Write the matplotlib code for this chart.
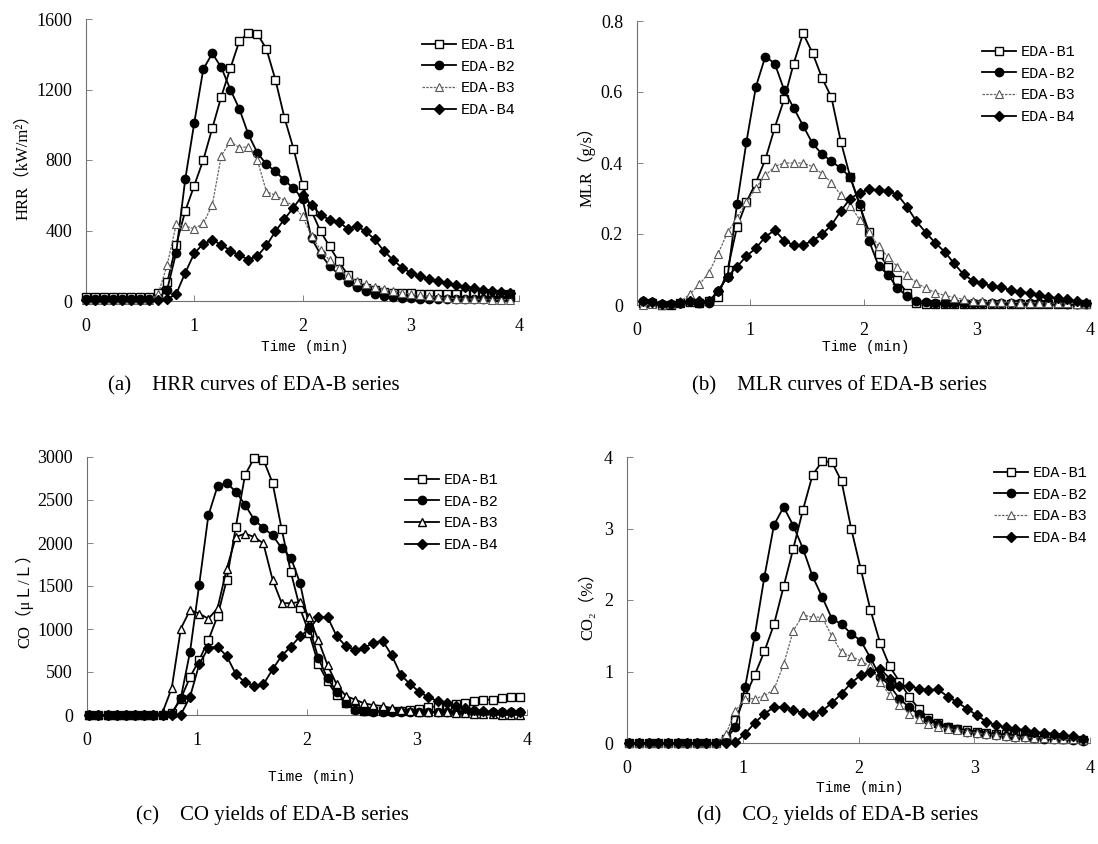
import numpy as np
import matplotlib
matplotlib.use('Agg')
import matplotlib.pyplot as plt

# ===============================
# data read off the four panels (sampled every 5 s)
# ===============================
t_a = np.arange(48) / 12
t_b = 0.05 + np.arange(48) / 12
t_c = 0.02 + np.arange(48) / 12
t_d = 0.02 + np.arange(48) / 12

# (a) HRR, kW/m2
hrr_b1 = [20] * 8 + [45, 105, 320, 510, 655, 800, 980, 1160, 1320, 1475,
                     1520, 1515, 1430, 1255, 1040, 865, 660, 510, 395, 310,
                     225, 150, 100, 75, 60, 52, 48, 45, 45, 42,
                     42, 42, 42, 42, 40, 40, 40, 40, 38, 38]
hrr_b2 = [10] * 8 + [15, 65, 275, 690, 1010, 1315, 1405, 1325, 1200, 1090,
                     945, 840, 775, 735, 685, 640, 580, 355, 265, 200,
                     150, 105, 78, 58, 40, 30, 22, 18, 15, 14,
                     13, 12, 12, 12, 12, 12, 12, 12, 12, 12]
hrr_b3 = [5] * 8 + [40, 205, 435, 425, 410, 440, 545, 825, 905, 870,
                    875, 800, 620, 600, 570, 540, 480, 370, 290, 230,
                    185, 140, 115, 95, 80, 68, 58, 48, 40, 32,
                    26, 20, 16, 14, 12, 10, 10, 8, 8, 8]
hrr_b4 = [5] * 9 + [10, 40, 160, 270, 325, 345, 320, 285, 260, 235,
                    255, 315, 395, 465, 530, 600, 545, 490, 460, 450,
                    410, 425, 395, 350, 285, 235, 190, 160, 140, 125,
                    112, 102, 90, 80, 73, 65, 58, 52, 48]

# (b) MLR, g/s
mlr_b1 = [0.005, 0.005, 0.0, 0.0, 0.005, 0.008, 0.005, 0.01, 0.023, 0.10,
          0.22, 0.29, 0.345, 0.41, 0.50, 0.58, 0.68, 0.765, 0.71, 0.64,
          0.585, 0.46, 0.36, 0.28, 0.205, 0.145, 0.108, 0.07, 0.035, 0.005,
          0.003, 0.003, 0.002, 0.002, 0.002, 0.002, 0.002, 0.002, 0.002, 0.002,
          0.002, 0.002, 0.003, 0.003, 0.003, 0.003, 0.003, 0.003]
mlr_b2 = [0.01, 0.008, 0.003, 0.004, 0.007, 0.01, 0.005, 0.005, 0.04, 0.08,
          0.285, 0.46, 0.615, 0.70, 0.68, 0.605, 0.555, 0.505, 0.455, 0.425,
          0.405, 0.385, 0.36, 0.285, 0.18, 0.11, 0.085, 0.048, 0.025, 0.012,
          0.008, 0.007, 0.006, 0.006, 0.005, 0.005, 0.005, 0.005, 0.005, 0.005,
          0.005, 0.005, 0.005, 0.005, 0.005, 0.004, 0.004, 0.004]
mlr_b3 = [0.0, 0.002, 0.0, 0.003, 0.01, 0.03, 0.058, 0.09, 0.145, 0.205,
          0.245, 0.29, 0.33, 0.365, 0.39, 0.40, 0.40, 0.40, 0.39, 0.37,
          0.345, 0.31, 0.28, 0.24, 0.205, 0.165, 0.135, 0.108, 0.084, 0.063,
          0.047, 0.035, 0.027, 0.021, 0.016, 0.012, 0.01, 0.009, 0.008, 0.008,
          0.007, 0.007, 0.006, 0.006, 0.005, 0.005, 0.004, 0.003]
mlr_b4 = [0.01, 0.008, 0.003, 0.003, 0.005, 0.01, 0.01, 0.01, 0.04, 0.08,
          0.108, 0.138, 0.16, 0.192, 0.211, 0.181, 0.169, 0.169, 0.181, 0.199,
          0.225, 0.265, 0.30, 0.316, 0.326, 0.324, 0.321, 0.311, 0.277, 0.236,
          0.204, 0.175, 0.15, 0.117, 0.086, 0.068, 0.061, 0.053, 0.05, 0.042,
          0.038, 0.033, 0.028, 0.023, 0.019, 0.016, 0.011, 0.007]

# (c) CO, uL/L
co_b1 = [0] * 9 + [20, 190, 440, 640, 870, 1150, 1570, 2190, 2790, 2990,
                   2970, 2700, 2160, 1660, 1240, 950, 590, 390, 230, 145,
                   70, 50, 45, 45, 45, 50, 60, 75, 90, 100,
                   110, 125, 140, 160, 175, 180, 195, 215, 215]
co_b2 = [0] * 9 + [15, 200, 735, 1515, 2320, 2660, 2700, 2595, 2445, 2270,
                   2175, 2090, 1940, 1830, 1535, 1025, 660, 425, 270, 145,
                   60, 45, 40, 40, 40, 35, 35, 30, 30, 30,
                   30, 30, 30, 30, 30, 30, 30, 30, 30]
co_b3 = [0] * 8 + [30, 310, 1005, 1220, 1180, 1120, 1240, 1700, 2070, 2110,
                   2070, 1995, 1575, 1300, 1300, 1315, 1140, 870, 580, 355,
                   220, 180, 135, 115, 105, 80, 60, 50, 40, 40,
                   35, 30, 25, 20, 15, 10, 10, 5, 5, 5]
co_b4 = [0] * 10 + [5, 210, 590, 780, 795, 685, 475, 380, 340, 355,
                    530, 690, 795, 915, 1000, 1135, 1140, 915, 800, 760,
                    780, 840, 865, 695, 465, 360, 270, 205, 165, 135,
                    105, 80, 60, 50, 40, 30, 40, 30]

# (d) CO2, %
co2_b1 = [0] * 10 + [0.05, 0.32, 0.65, 0.95, 1.28, 1.66, 2.19, 2.72, 3.26, 3.75,
                     3.94, 3.93, 3.66, 3.0, 2.43, 1.86, 1.40, 1.07, 0.86, 0.65,
                     0.48, 0.35, 0.28, 0.23, 0.20, 0.18, 0.16, 0.14, 0.13, 0.12,
                     0.11, 0.10, 0.09, 0.08, 0.07, 0.06, 0.05, 0.04]
co2_b2 = [0] * 10 + [0.05, 0.22, 0.78, 1.50, 2.32, 3.05, 3.30, 3.04, 2.72, 2.33,
                     2.04, 1.74, 1.66, 1.53, 1.43, 1.19, 0.93, 0.80, 0.62, 0.50,
                     0.40, 0.32, 0.26, 0.22, 0.19, 0.16, 0.14, 0.12, 0.11, 0.10,
                     0.09, 0.08, 0.07, 0.06, 0.05, 0.05, 0.04, 0.03]
co2_b3 = [0] * 10 + [0.12, 0.45, 0.62, 0.62, 0.66, 0.75, 1.10, 1.57, 1.79, 1.76,
                     1.76, 1.49, 1.27, 1.21, 1.15, 1.07, 0.86, 0.67, 0.53, 0.41,
                     0.33, 0.27, 0.23, 0.20, 0.18, 0.16, 0.14, 0.12, 0.11, 0.10,
                     0.09, 0.08, 0.07, 0.07, 0.06, 0.05, 0.05, 0.04]
co2_b4 = [0] * 11 + [0.01, 0.13, 0.28, 0.41, 0.50, 0.51, 0.46, 0.42, 0.39,
                     0.45, 0.56, 0.69, 0.84, 0.95, 1.0, 1.04, 0.90, 0.80, 0.80,
                     0.76, 0.74, 0.75, 0.65, 0.57, 0.48, 0.39, 0.30, 0.25, 0.22,
                     0.20, 0.18, 0.155, 0.14, 0.13, 0.11, 0.095, 0.06]

names = ['EDA-B1', 'EDA-B2', 'EDA-B3', 'EDA-B4']

# ===============================
# styles
# ===============================
FIG_W, FIG_H = 1098, 844
serif = ['Liberation Serif', 'Noto Sans CJK SC', 'DejaVu Serif']
mono = ['Liberation Mono', 'DejaVu Sans Mono']

def style(i, gray_b3=True):
    base = dict(color='black', lw=1.3, clip_on=False, zorder=3)
    if i == 0:
        base.update(marker='s', ms=6, mfc='white', mec='black', mew=1.0)
    elif i == 1:
        base.update(marker='o', ms=6, mfc='black', mec='black')
    elif i == 2:
        if gray_b3:
            base.update(color='#666666', lw=0.9, ls=(0, (2, 1)),
                        marker='^', ms=5.5, mfc='white', mec='#555555', mew=0.8)
        else:
            base.update(marker='^', ms=6, mfc='white', mec='black', mew=1.0)
    else:
        base.update(marker='D', ms=5, mfc='black', mec='black')
    return base

def px_axes(l, r, top, bottom):
    return plt.gcf().add_axes([l / FIG_W, 1 - bottom / FIG_H,
                               (r - l) / FIG_W, (bottom - top) / FIG_H])

def panel(box, t, series, ymax, ystep, ylabel, yfmt, leg_xy, ylab_xy, xlab_xy,
          caption, cap_xy, gray_b3=True):
    ax = px_axes(*box)
    for i, (vals, nm) in enumerate(zip(series, names)):
        ax.plot(t, vals, label=nm, **style(i, gray_b3))
    ax.set_xlim(0, 4)
    ax.set_ylim(0, ymax)
    ax.set_xticks([0, 1, 2, 3, 4])
    yt = np.arange(0, ymax + ystep / 2, ystep)
    ax.set_yticks(yt)
    ax.set_yticklabels([yfmt(v) for v in yt])
    for s in ['top', 'right']:
        ax.spines[s].set_visible(False)
    for s in ['left', 'bottom']:
        ax.spines[s].set_color('#707070')
        ax.spines[s].set_linewidth(0.8)
    ax.tick_params(axis='x', direction='in', length=4, width=0.6, color='#707070', pad=12)
    ax.tick_params(axis='y', direction='in', length=4, width=0.6, color='#707070', pad=10)
    for lab in ax.get_xticklabels() + ax.get_yticklabels():
        lab.set_family(serif)
        lab.set_fontsize(13)
    fig = plt.gcf()
    fig.text(ylab_xy[0] / FIG_W, 1 - ylab_xy[1] / FIG_H, ylabel, rotation=90,
             ha='center', va='center', fontsize=12, family=serif)
    fig.text(xlab_xy[0] / FIG_W, 1 - xlab_xy[1] / FIG_H, 'Time (min)',
             ha='center', va='center', fontsize=10.5, family=mono)
    fig.text(cap_xy[0] / FIG_W, 1 - cap_xy[1] / FIG_H, caption,
             ha='center', va='center', fontsize=15, family=serif)
    ax.legend(loc='upper left', bbox_to_anchor=(leg_xy[0] / FIG_W, 1 - leg_xy[1] / FIG_H),
              bbox_transform=fig.transFigure, frameon=False, borderpad=0,
              borderaxespad=0, handlelength=2.2, handletextpad=0.35,
              labelspacing=0.5, prop={'family': mono, 'size': 11})
    return ax

# ===============================
# figure
# ===============================
plt.figure(figsize=(FIG_W / 100, FIG_H / 100), dpi=100, facecolor='white')

panel((86, 519, 19, 301), t_a, [hrr_b1, hrr_b2, hrr_b3, hrr_b4], 1600, 400,
      'HRR（kW/m²）', lambda v: f'{v:.0f}', (422, 38), (23, 163), (305, 347),
      '(a)    HRR curves of EDA-B series', (254, 386))

panel((637, 1090, 21, 305), t_b, [mlr_b1, mlr_b2, mlr_b3, mlr_b4], 0.8, 0.2,
      'MLR（g/s）', lambda v: '0' if v == 0 else f'{v:.1f}', (982, 45), (586, 163),
      (866, 347), '(b)    MLR curves of EDA-B series', (840, 386))

panel((87, 527, 457, 715), t_c, [co_b1, co_b2, co_b3, co_b4], 3000, 500,
      'CO（μＬ/Ｌ）', lambda v: f'{v:.0f}', (405, 473), (24, 597), (312, 777),
      '(c)    CO yields of EDA-B series', (272, 815), gray_b3=False)

panel((627, 1090, 457, 743), t_d, [co2_b1, co2_b2, co2_b3, co2_b4], 4, 1,
      'CO₂（%）', lambda v: f'{v:.0f}', (994, 466), (588, 602), (860, 788),
      '(d)    CO₂ yields of EDA-B series', (838, 815))

plt.savefig('out.png', dpi=100, facecolor='white')
